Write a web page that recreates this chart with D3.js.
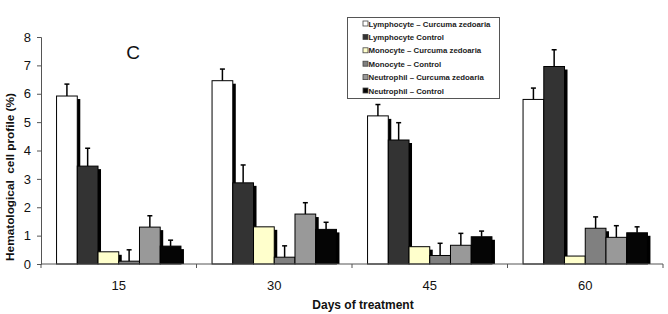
<!DOCTYPE html>
<html><head><meta charset="utf-8">
<script src="https://cdn.jsdelivr.net/npm/d3@7"></script>
<style>body{margin:0;background:#fff}svg{display:block}text{font-family:"Liberation Sans",Arial,sans-serif}</style>
</head><body><svg id="c" width="668" height="314"></svg>
<script>
const days = ["15","30","45","60"];
const seriesNames = ["Lymphocyte – Curcuma zedoaria","Lymphocyte Control","Monocyte – Curcuma zedoaria","Monocyte – Control","Neutrophil – Curcuma zedoaria","Neutrophil – Control"];
const seriesColors = ["#ffffff","#333333","#ffffcc","#808080","#999999","#050505"];
const lymCZ = [5.92, 6.46, 5.22, 5.80];
const lymCtrl = [3.45, 2.86, 4.37, 6.96];
const monoCZ = [0.43, 1.31, 0.61, 0.28];
const monoCtrl = [0.10, 0.24, 0.30, 1.26];
const neuCZ = [1.30, 1.76, 0.66, 0.94];
const neuCtrl = [0.63, 1.22, 0.96, 1.10];
const errLymCZ = [0.42, 0.41, 0.40, 0.40];
const errLymCtrl = [0.63, 0.63, 0.61, 0.59];
const errMonoCZ = [0, 0, 0, 0];
const errMonoCtrl = [0.40, 0.40, 0.43, 0.40];
const errNeuCZ = [0.40, 0.40, 0.42, 0.41];
const errNeuCtrl = [0.21, 0.25, 0.20, 0.21];
const yTicks = [0,1,2,3,4,5,6,7,8];

const values = [lymCZ, lymCtrl, monoCZ, monoCtrl, neuCZ, neuCtrl];
const errors = [errLymCZ, errLymCtrl, errMonoCZ, errMonoCtrl, errNeuCZ, errNeuCtrl];

const svg = d3.select("#c");
const x0 = d3.scaleBand().domain(days).range([41, 663]).paddingInner(0.2).paddingOuter(0.1);
const x1 = d3.scaleBand().domain(d3.range(seriesNames.length)).range([0, x0.bandwidth()]);
const y = d3.scaleLinear().domain([0, 8]).range([264, 37]);

// bars
days.forEach((d, di) => {
  const g = svg.append("g").attr("transform", `translate(${x0(d)},0)`);
  values.forEach((arr, si) => {
    const v = arr[di];
    const bx = x1(si), bw = x1.bandwidth(), top = y(v), h = y(0) - y(v);
    if (h > 3) g.append("rect").attr("x", bx + 3).attr("y", top + 3).attr("width", bw).attr("height", h - 3).attr("fill", "#000");
    g.append("rect").attr("x", bx).attr("y", top).attr("width", bw).attr("height", h)
      .attr("fill", seriesColors[si]).attr("stroke", "#000").attr("stroke-width", 1);
  });
  errors.forEach((arr, si) => {
    const e = arr[di];
    if (!e) return;
    const cx = x1(si) + x1.bandwidth() / 2;
    const v = values[si][di];
    g.append("line").attr("x1", cx).attr("x2", cx).attr("y1", y(v)).attr("y2", y(v + e)).attr("stroke", "#000").attr("stroke-width", 1.5);
    g.append("line").attr("x1", cx - 2.5).attr("x2", cx + 2.5).attr("y1", y(v + e)).attr("y2", y(v + e)).attr("stroke", "#000").attr("stroke-width", 1.5);
  });
});

// y axis
const ya = svg.append("g").attr("transform", "translate(41,0)")
  .call(d3.axisLeft(y).tickValues(yTicks).tickSize(4).tickPadding(6).tickFormat(d3.format("d")));
ya.select(".domain").attr("stroke", "#555");
ya.selectAll(".tick line").attr("stroke", "#555");
ya.selectAll("text").attr("font-size", 13).attr("fill", "#111").style("font-family", "Liberation Sans, Arial, sans-serif");

// x axis
const xa = svg.append("g").attr("transform", "translate(0,264)");
xa.append("line").attr("x1", 41).attr("x2", 663).attr("stroke", "#555");
const bounds = [41].concat(days.map(d => x0(d) + x0.bandwidth() + x0.step() * x0.paddingInner() / 2));
bounds[bounds.length - 1] = 663;
bounds.forEach(b => xa.append("line").attr("x1", b).attr("x2", b).attr("y1", 0).attr("y2", 4).attr("stroke", "#555"));
days.forEach(d => xa.append("text").attr("x", x0(d) + x0.bandwidth() / 2).attr("y", 26).attr("text-anchor", "middle").attr("font-size", 13).attr("fill", "#111").text(d));

// axis titles
svg.append("text").attr("x", 363).attr("y", 309).attr("text-anchor", "middle").attr("font-size", 12).attr("font-weight", "bold").attr("fill", "#111").text("Days of treatment");
svg.append("text").attr("transform", "translate(14,177) rotate(-90)").attr("text-anchor", "middle").attr("font-size", 11.8).attr("font-weight", "bold").attr("fill", "#111").style("white-space", "pre").text("Hematological  cell profile (%)");

// panel label
svg.append("text").attr("x", 133).attr("y", 59).attr("text-anchor", "middle").attr("font-size", 19).attr("fill", "#111").text("C");

// legend
const lg = svg.append("g");
lg.append("rect").attr("x", 347.5).attr("y", 17.5).attr("width", 152).attr("height", 81).attr("fill", "#fff").attr("stroke", "#555");
seriesNames.forEach((n, i) => {
  const ly = 23.5 + i * 13.4;
  lg.append("rect").attr("x", 363).attr("y", ly - 2.5).attr("width", 5).attr("height", 5).attr("fill", seriesColors[i]).attr("stroke", "#444").attr("stroke-width", 0.8);
  lg.append("text").attr("x", 368.5).attr("y", ly + 3).attr("font-size", 7.8).attr("font-weight", "bold").attr("fill", "#222").text(n);
});
</script></body></html>
